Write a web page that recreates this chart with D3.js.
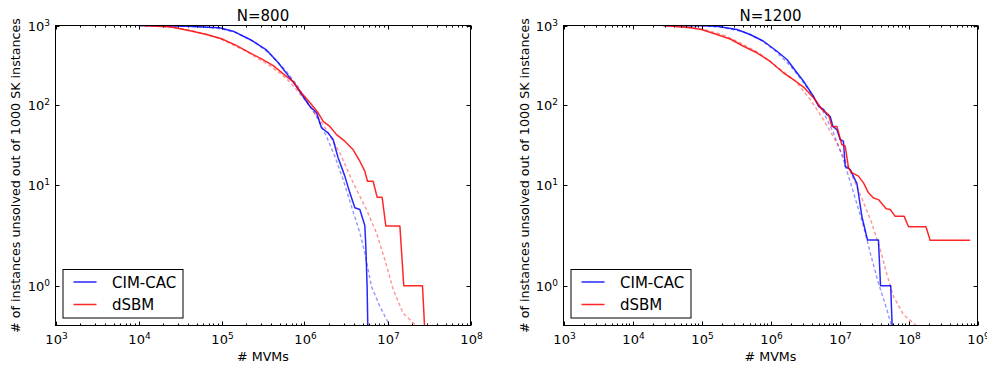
<!DOCTYPE html>
<html><head><meta charset="utf-8">
<script src="https://cdn.jsdelivr.net/npm/d3@7"></script>
<style>body{margin:0;background:#fff}svg{display:block;font-family:"DejaVu Sans",sans-serif}</style>
</head><body><svg id="c" width="987" height="365"></svg>
<script>
// ---------- data ----------
const titles = ["N=800", "N=1200"];
const seriesNames = ["CIM-CAC", "dSBM"];
const yTickValues = [1000, 100, 10, 1];
const yTickExps = [3, 2, 1, 0];

// N=800 panel
const n800_cimX = [1.0e4, 3.78e4, 9.5e4, 1.38e5, 2.3e5, 3.48e5, 4.8e5, 6.3e5, 7.5e5, 9.6e5, 1.16e6, 1.40e6, 1.60e6, 1.92e6, 2.21e6, 2.54e6, 3.06e6, 3.52e6, 4.04e6, 4.64e6, 5.33e6, 5.48e6, 5.68e6, 5.9e6];
const n800_cimY = [1000, 980, 935, 847, 650, 490, 340, 235, 185, 127, 95, 78.6, 51, 44, 36.3, 21.5, 12.8, 8.05, 5.38, 5.14, 3.41, 2.09, 0.99, 0.55];
const n800_sbmX = [1.1e4, 2.5e4, 4.3e4, 6.6e4, 1.0e5, 1.5e5, 2.2e5, 3.0e5, 4.2e5, 5.8e5, 7.3e5, 9.2e5, 1.16e6, 1.46e6, 1.68e6, 2.02e6, 2.43e6, 3.06e6, 3.86e6, 4.64e6, 5.33e6, 5.74e6, 6.71e6, 7.5e6, 8.61e6, 9.55e6, 1.41e7, 1.57e7, 2.64e7, 2.95e7];
const n800_sbmY = [1000, 960, 850, 770, 680, 560, 450, 380, 310, 235, 195, 140, 106, 78.6, 61.4, 53, 41.8, 34.6, 27, 19.5, 14.7, 11.1, 11.1, 7.15, 7.15, 3.37, 3.37, 1.0, 1.0, 0.55];
const n800_cimFitX = [1.0e4, 3e4, 6e4, 1e5, 1.5e5, 2.5e5, 4e5, 6e5, 8e5, 1.0e6, 1.4e6, 1.84e6, 2.32e6, 2.92e6, 3.68e6, 4.64e6, 5.33e6, 6.41e6, 8.07e6, 1.07e7, 1.3e7];
const n800_cimFitY = [1000, 990, 960, 905, 810, 620, 420, 265, 180, 122, 70, 39.8, 22.5, 11.6, 5.6, 2.85, 1.81, 0.99, 0.775, 0.655, 0.6];
const n800_sbmFitX = [1.0e4, 2e4, 4e4, 7e4, 1e5, 2e5, 4e5, 6e5, 8e5, 1.16e6, 1.84e6, 2.66e6, 3.86e6, 5.58e6, 7.36e6, 9.27e6, 1.17e7, 1.54e7, 2.23e7, 2.8e7];
const n800_sbmFitY = [995, 975, 880, 760, 670, 470, 300, 215, 155, 95, 48.4, 24.8, 10.6, 5.14, 2.85, 1.58, 0.949, 0.725, 0.655, 0.6];

// N=1200 panel
const n1200_cimX = [2.8e4, 1.0e5, 1.67e5, 3.26e5, 5.08e5, 7.93e5, 1.24e6, 1.73e6, 2.42e6, 3.01e6, 4.2e6, 4.96e6, 5.86e6, 6.56e6, 7.33e6, 8.02e6, 9.16e6, 1.02e7, 1.14e7, 1.21e7, 1.43e7, 1.79e7, 2.11e7, 2.55e7, 3.67e7, 3.93e7, 5.52e7, 6.07e7];
const n1200_cimY = [1000, 995, 980, 890, 769, 632, 472, 371, 252, 197, 127, 95, 86.6, 74.6, 71, 53, 48.4, 36.3, 34.6, 16.9, 15.4, 10.4, 4.3, 2.4, 2.4, 1.0, 1.0, 0.55];
const n1200_sbmX = [2.8e4, 6.85e4, 1.0e5, 1.67e5, 2.61e5, 4.06e5, 6.35e5, 9.91e5, 1.54e6, 2.15e6, 3.01e6, 4.2e6, 4.96e6, 5.56e6, 6.94e6, 7.76e6, 9.16e6, 1.08e7, 1.21e7, 1.35e7, 1.51e7, 1.88e7, 2.23e7, 2.63e7, 3.11e7, 3.67e7, 4.75e7, 5.43e7, 6.42e7, 8.66e7, 1.0e8, 1.79e8, 2.06e8, 7.83e8];
const n1200_sbmY = [1000, 935, 890, 769, 675, 546, 451, 350, 252, 207, 166, 121.5, 100, 86.6, 74.6, 53, 53, 31.5, 30, 16.3, 14.1, 12.8, 10.6, 8.05, 7.0, 6.7, 5.24, 5.14, 4.3, 4.3, 3.3, 3.3, 2.39, 2.39];
const n1200_cimFitX = [3e4, 1e5, 2e5, 4e5, 7e5, 1.2e6, 2e6, 3e6, 4.2e6, 5.86e6, 8.18e6, 1.14e7, 1.6e7, 2.23e7, 2.79e7, 3.67e7, 4.86e7, 5.74e7, 7e7];
const n1200_cimFitY = [1000, 990, 945, 835, 670, 470, 300, 190, 125, 80, 44, 20.5, 8.05, 3.35, 1.81, 1.04, 0.75, 0.65, 0.6];
const n1200_sbmFitX = [2.8e4, 6e4, 1e5, 2e5, 4e5, 7e5, 1.0e6, 1.73e6, 2.42e6, 3.76e6, 4.7e6, 5.86e6, 9.16e6, 1.43e7, 2.0e7, 2.88e7, 3.9e7, 4.86e7, 6.07e7, 8.47e7, 1.32e8, 1.8e8];
const n1200_sbmFitY = [1000, 960, 905, 770, 580, 440, 345, 240, 188, 116, 86.6, 64.5, 33, 14.6, 7.7, 3.77, 1.94, 1.2, 0.865, 0.715, 0.655, 0.6];

// ---------- drawing ----------
const svg = d3.select("#c");
const BLUE = "#0000ff", RED = "#ff0000";
const TOP = 25.5, BOTTOM = 325.5;
const SHIFT = 0.5;

const panels = [
  {title: titles[0], xDomain: [1e3, 1e8], x0: 55.5, x1: 470.5, ylabX: 19.5,
   series: [[n800_cimFitX, n800_cimFitY, BLUE, true], [n800_sbmFitX, n800_sbmFitY, RED, true],
            [n800_cimX, n800_cimY, BLUE, false], [n800_sbmX, n800_sbmY, RED, false]]},
  {title: titles[1], xDomain: [1e3, 1e9], x0: 563.5, x1: 977.5, ylabX: 528.5,
   series: [[n1200_cimFitX, n1200_cimFitY, BLUE, true], [n1200_sbmFitX, n1200_sbmFitY, RED, true],
            [n1200_cimX, n1200_cimY, BLUE, false], [n1200_sbmX, n1200_sbmY, RED, false]]}
];

function supLabel(sel, exp, fs, sfs) {
  sel.text(null);
  sel.append("tspan").attr("font-size", fs).text("10");
  sel.append("tspan").attr("font-size", sfs).attr("dy", -5).text(String(exp));
}

panels.forEach((p, pi) => {
  const g = svg.append("g");
  const x = d3.scaleLog().domain(p.xDomain).range([p.x0, p.x1]);
  const ys = d3.scaleLog().domain([1000 - SHIFT, 0.157]).range([TOP, BOTTOM]);
  const y = v => ys(v - SHIFT);

  const clipId = "clip" + pi;
  svg.append("clipPath").attr("id", clipId).append("rect")
    .attr("x", p.x0).attr("y", TOP).attr("width", p.x1 - p.x0).attr("height", BOTTOM - TOP);

  const plot = g.append("g").attr("clip-path", `url(#${clipId})`);
  p.series.forEach(([xs, vs, col, dashed]) => {
    const pts = xs.map((d, i) => [d, vs[i]]);
    const line = d3.line().x(d => x(d[0])).y(d => y(d[1]));
    plot.append("path").attr("d", line(pts)).attr("fill", "none")
      .attr("stroke", col).attr("stroke-width", dashed ? 1.4 : 1.5)
      .attr("stroke-opacity", dashed ? 0.42 : 0.85)
      .attr("stroke-dasharray", dashed ? "3.5,2.5" : null)
      .attr("stroke-linejoin", "round");
  });

  // ticks: x major/minor on bottom and top, inward
  const [e0, e1] = [Math.log10(p.xDomain[0]), Math.log10(p.xDomain[1])];
  const ticksG = g.append("g").attr("stroke", "#000").attr("stroke-width", 1);
  for (let e = e0; e <= e1; e++) {
    for (let m = 1; m <= 9; m++) {
      const v = m * Math.pow(10, e);
      if (v > p.xDomain[1] * 1.0001) break;
      const xx = Math.round(x(v)) + 0.5;
      const len = m === 1 ? 4 : 2;
      ticksG.append("line").attr("x1", xx).attr("x2", xx).attr("y1", BOTTOM).attr("y2", BOTTOM - len);
      ticksG.append("line").attr("x1", xx).attr("x2", xx).attr("y1", TOP).attr("y2", TOP + len);
    }
  }
  yTickValues.forEach(v => {
    const yy = Math.round(y(v)) + 0.5;
    ticksG.append("line").attr("x1", p.x0).attr("x2", p.x0 + 4).attr("y1", yy).attr("y2", yy);
    ticksG.append("line").attr("x1", p.x1).attr("x2", p.x1 - 4).attr("y1", yy).attr("y2", yy);
  });

  // x tick labels
  for (let e = e0; e <= e1; e++) {
    const t = g.append("text").attr("x", x(Math.pow(10, e)) + 1).attr("y", 343.5)
      .attr("text-anchor", "middle").attr("fill", "#000");
    supLabel(t, e, 13, 9);
  }
  // y tick labels
  yTickValues.forEach((v, i) => {
    const t = g.append("text").attr("x", p.x0 - 5.5).attr("y", y(v) + 5.5)
      .attr("text-anchor", "end").attr("fill", "#000");
    supLabel(t, yTickExps[i], 13, 9);
  });

  // frame
  g.append("rect").attr("x", p.x0).attr("y", TOP).attr("width", p.x1 - p.x0).attr("height", BOTTOM - TOP)
    .attr("fill", "none").attr("stroke", "#000").attr("stroke-width", 1);

  // title and axis labels
  const cx = (p.x0 + p.x1) / 2;
  g.append("text").attr("x", cx).attr("y", 20.5).attr("text-anchor", "middle").attr("font-size", 15).text(p.title);
  g.append("text").attr("x", cx).attr("y", 361).attr("text-anchor", "middle").attr("font-size", 12.7).text("# MVMs");
  g.append("text").attr("transform", `translate(${p.ylabX},${(TOP + BOTTOM) / 2}) rotate(-90)`)
    .attr("text-anchor", "middle").attr("font-size", 12.7).text("# of instances unsolved out of 1000 SK instances");

  // legend
  const lx = p.x0 + 7.5, ly = 269.5;
  const lg = g.append("g");
  lg.append("rect").attr("x", lx).attr("y", ly).attr("width", 120).attr("height", 48.5)
    .attr("fill", "#fff").attr("stroke", "#000").attr("stroke-width", 1);
  [[BLUE, seriesNames[0]], [RED, seriesNames[1]]].forEach(([col, name], i) => {
    const yy = ly + 12.5 + i * 22.5;
    lg.append("line").attr("x1", lx + 10.5).attr("x2", lx + 33.5).attr("y1", yy).attr("y2", yy)
      .attr("stroke", col).attr("stroke-width", 1.5).attr("stroke-opacity", 0.85);
    lg.append("text").attr("x", lx + 49).attr("y", yy + 5.5).attr("font-size", 15).text(name);
  });
});
</script>
</body></html>
